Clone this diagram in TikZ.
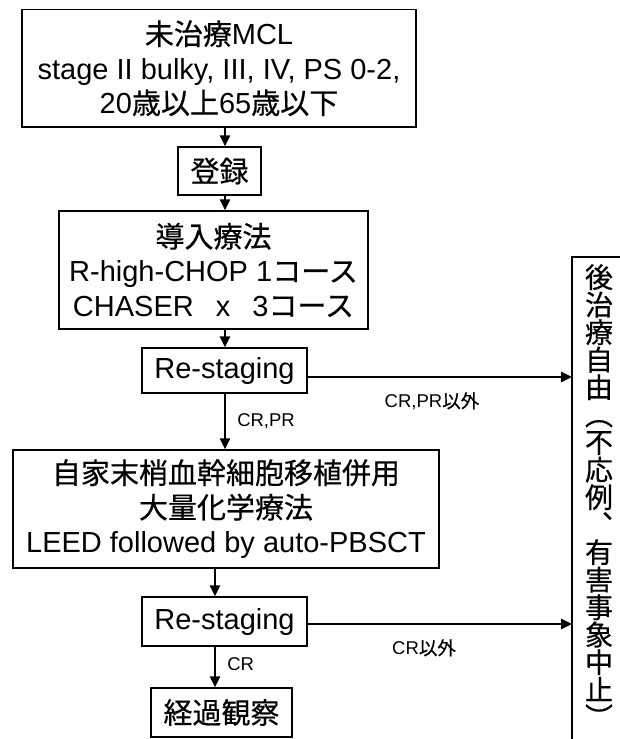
\documentclass[tikz,border=0pt]{standalone}
\usepackage{fontspec}
\setmainfont{Liberation Sans}
\newfontfamily\cjk[FakeBold=0.5]{Noto Sans CJK JP}
\usetikzlibrary{arrows.meta}
\newcommand{\JP}[1]{{\cjk #1}}
\begin{document}
\begin{tikzpicture}[x=1pt,y=-1pt]
\tikzset{
  bx/.style={draw,line width=1.5pt,inner sep=0pt,align=center,font=\fontsize{29}{34.5}\selectfont},
  arr/.style={line width=2.5pt,-{Triangle[length=11pt,width=10pt]}},
  lbl/.style={font=\fontsize{18.5}{20}\selectfont,inner sep=0pt}
}
\useasboundingbox (0,0) rectangle (620,739);
\node[bx,minimum width=394pt,minimum height=117.5pt] (b1) at (219,68.25)
  {\JP{未治療}MCL\\stage II bulky, III, IV, PS 0-2,\\20\JP{歳以上}65\JP{歳以下}};
\node[bx,minimum width=83pt,minimum height=48pt] (reg) at (219.5,171) {\JP{登録}};
\node[bx,minimum width=309pt,minimum height=118pt] (b3) at (213.5,270)
  {\JP{導入療法}\\R-high-CHOP 1\JP{コース}\\CHASER\hspace{22pt}x\hspace{22pt}3\JP{コース}};
\node[bx,minimum width=165pt,minimum height=45pt] (re1) at (224.5,370.5) {Re-staging};
\node[bx,minimum width=426pt,minimum height=118pt] (b5) at (226,509)
  {\JP{自家末梢血幹細胞移植併用}\\\JP{大量化学療法}\\LEED followed by auto-PBSCT};
\node[bx,minimum width=165pt,minimum height=49pt] (re2) at (224.5,621.5) {Re-staging};
\node[bx,minimum width=141pt,minimum height=49pt] (obs) at (221.5,712.5) {\JP{経過観察}};
% right box
\coordinate (rtl) at (572,257);
\draw[line width=1.5pt] (621,257) -- (rtl) -- (572,740);
\node[inner sep=0pt,align=center,font=\cjk\fontsize{28}{27.5}\selectfont] (vt) at (599,496)
  {後\\治\\療\\自\\由\\︵\\不\\応\\例\\︑\\有\\害\\事\\象\\中\\止\\︶};
% connectors
\coordinate (xa) at (225,0);
\coordinate (xb) at (215,0);
\coordinate (h1) at (0,377);
\coordinate (h2) at (0,624);
\draw[arr] (b1.south -| xa) -- (reg.north -| xa);
\draw[arr] (reg.south -| xa) -- (b3.north -| xa);
\draw[arr] (b3.south -| xa) -- (re1.north -| xa);
\draw[arr] (re1.south -| xa) -- node[lbl,right=11pt]{CR,PR} (b5.north -| xa);
\draw[arr] (b5.south -| xb) -- (re2.north -| xb);
\draw[arr] (re2.south -| xb) -- node[lbl,right=11pt,yshift=3pt]{CR} (obs.north -| xb);
\draw[arr] (re1.east |- h1) -- node[lbl,pos=0.47,below=14pt]{CR,PR\JP{以外}} (rtl |- h1);
\draw[arr] (re2.east |- h2) -- node[lbl,pos=0.44,below=14pt]{CR\JP{以外}} (rtl |- h2);
\end{tikzpicture}
\end{document}
